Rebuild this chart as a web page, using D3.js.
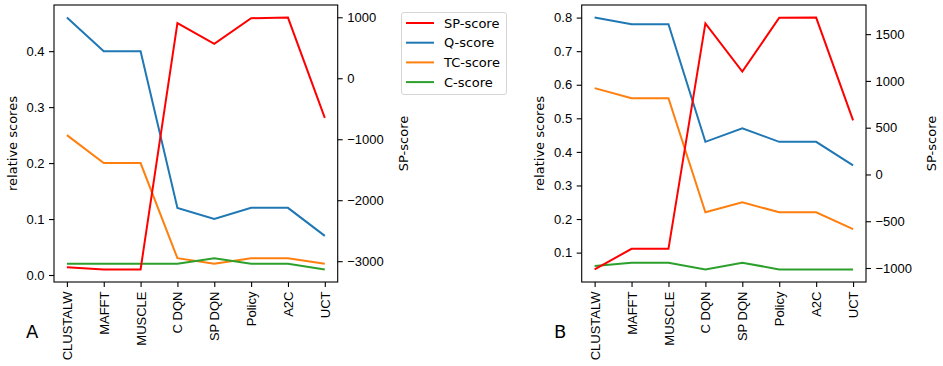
<!DOCTYPE html>
<html>
<head>
<meta charset="utf-8">
<script src="https://cdn.jsdelivr.net/npm/d3@7"></script>
<style>
  body { margin: 0; background: #fff; }
  svg { font-family: "DejaVu Sans", sans-serif; }
  .axis path, .axis line { stroke: #000; stroke-width: 1.1; }
  .axis text { font-size: 13px; fill: #000; }
</style>
</head>
<body>
<div id="app"></div>
<script>
// categories (x ticks)
const methods = ['CLUSTALW', 'MAFFT', 'MUSCLE', 'C DQN', 'SP DQN', 'Policy', 'A2C', 'UCT'];

// panel A
const qA  = [0.46, 0.40, 0.40, 0.12, 0.10, 0.12, 0.12, 0.07];
const tcA = [0.25, 0.20, 0.20, 0.03, 0.02, 0.03, 0.03, 0.02];
const cA  = [0.02, 0.02, 0.02, 0.02, 0.03, 0.02, 0.02, 0.01];
const spA = [-3100, -3135, -3135, 905, 565, 985, 995, -650];
const leftTicksA  = [0.0, 0.1, 0.2, 0.3, 0.4];
const rightTicksA = [-3000, -2000, -1000, 0, 1000];

// panel B
const qB  = [0.80, 0.78, 0.78, 0.43, 0.47, 0.43, 0.43, 0.36];
const tcB = [0.59, 0.56, 0.56, 0.22, 0.25, 0.22, 0.22, 0.17];
const cB  = [0.06, 0.07, 0.07, 0.05, 0.07, 0.05, 0.05, 0.05];
const spB = [-1015, -795, -795, 1615, 1100, 1675, 1677, 578];
const leftTicksB  = [0.1, 0.2, 0.3, 0.4, 0.5, 0.6, 0.7, 0.8];
const rightTicksB = [-1000, -500, 0, 500, 1000, 1500];

const seriesNames = ['SP-score', 'Q-score', 'TC-score', 'C-score'];
const colors = { 'SP-score': '#ff0000', 'Q-score': '#1f77b4', 'TC-score': '#ff7f0e', 'C-score': '#2ca02c' };

const svg = d3.select('#app').append('svg')
  .attr('width', 943)
  .attr('height', 366);

// matplotlib style 5% margins
function padded( arrays ) {
  const all = [].concat( ...arrays );
  const [lo, hi] = d3.extent( all );
  const m = ( hi - lo ) * 0.05;
  return [ lo - m, hi + m ];
}

function drawPanel( p ) {
  const x = d3.scaleLinear().domain( [ -0.35, methods.length - 1 + 0.35 ] ).range( [ p.left, p.right ] );
  const yL = d3.scaleLinear().domain( padded( [ p.q, p.tc, p.c ] ) ).range( [ p.bottom, p.top ] );
  const yR = d3.scaleLinear().domain( padded( [ p.sp ] ) ).range( [ p.bottom, p.top ] );

  const g = svg.append('g');

  // lines on the left axis
  const lineL = d3.line().x( ( d, i ) => x( i ) ).y( d => yL( d ) );
  [ [ p.q, 'Q-score' ], [ p.tc, 'TC-score' ], [ p.c, 'C-score' ] ].forEach( ( [ vals, name ] ) => {
    g.append('path')
      .datum( vals )
      .attr('d', lineL)
      .attr('fill', 'none')
      .attr('stroke', colors[ name ])
      .attr('stroke-width', 2);
  } );

  // SP-score on the twin axis
  const lineR = d3.line().x( ( d, i ) => x( i ) ).y( d => yR( d ) );
  g.append('path')
    .datum( p.sp )
    .attr('d', lineR)
    .attr('fill', 'none')
    .attr('stroke', colors['SP-score'])
    .attr('stroke-width', 2);

  // frame
  g.append('rect')
    .attr('x', p.left).attr('y', p.top)
    .attr('width', p.right - p.left).attr('height', p.bottom - p.top)
    .attr('fill', 'none').attr('stroke', '#000').attr('stroke-width', 1.1);

  // axes
  g.append('g').attr('class', 'axis')
    .attr('transform', `translate(${p.left},0)`)
    .call( d3.axisLeft( yL ).tickValues( p.leftTicks ).tickFormat( d3.format('.1f') ).tickSize( 5 ).tickPadding( 4.5 ).tickSizeOuter( 0 ) )
    .call( a => a.select('.domain').remove() );

  g.append('g').attr('class', 'axis')
    .attr('transform', `translate(${p.right},0)`)
    .call( d3.axisRight( yR ).tickValues( p.rightTicks ).tickFormat( d3.format('d') ).tickSize( 5 ).tickPadding( 4.5 ).tickSizeOuter( 0 ) )
    .call( a => a.select('.domain').remove() );

  const xa = g.append('g').attr('class', 'axis')
    .attr('transform', `translate(0,${p.bottom})`)
    .call( d3.axisBottom( x ).tickValues( d3.range( methods.length ) ).tickFormat( i => methods[ i ] ).tickSize( 5 ).tickSizeOuter( 0 ) );
  xa.select('.domain').remove();
  xa.selectAll('text')
    .attr('transform', 'rotate(-90)')
    .attr('text-anchor', 'end')
    .attr('x', -9.5)
    .attr('y', 0)
    .attr('dy', '0.35em');

  // axis titles
  const midY = ( p.top + p.bottom ) / 2;
  g.append('text')
    .attr('transform', `translate(${p.leftLabelX},${midY}) rotate(-90)`)
    .attr('text-anchor', 'middle').attr('dy', '0.35em')
    .style('font-size', '13px')
    .text('relative scores');
  g.append('text')
    .attr('transform', `translate(${p.rightLabelX},${midY}) rotate(-90)`)
    .attr('text-anchor', 'middle').attr('dy', '0.35em')
    .style('font-size', '13px')
    .text('SP-score');

  // panel letter
  g.append('text')
    .attr('x', p.letterX).attr('y', 338)
    .style('font-size', '18px')
    .text( p.letter );
}

drawPanel( { left: 54, right: 337.7, top: 5, bottom: 282, q: qA, tc: tcA, c: cA, sp: spA,
  leftTicks: leftTicksA, rightTicks: rightTicksA, leftLabelX: 12, rightLabelX: 403.5, letter: 'A', letterX: 26 } );
drawPanel( { left: 581.7, right: 866, top: 5, bottom: 282, q: qB, tc: tcB, c: cB, sp: spB,
  leftTicks: leftTicksB, rightTicks: rightTicksB, leftLabelX: 539, rightLabelX: 931.5, letter: 'B', letterX: 554 } );

// legend
const legend = svg.append('g').attr('transform', 'translate(401.5,12.5)');
legend.append('rect')
  .attr('width', 105).attr('height', 82)
  .attr('rx', 2.5)
  .attr('fill', '#fff').attr('fill-opacity', 0.8)
  .attr('stroke', '#d5d5d5');
seriesNames.forEach( ( name, i ) => {
  const yy = 10.5 + i * 19.7;
  legend.append('line')
    .attr('x1', 4.5).attr('x2', 32.5).attr('y1', yy).attr('y2', yy)
    .attr('stroke', colors[ name ]).attr('stroke-width', 2);
  legend.append('text')
    .attr('x', 42.5).attr('y', yy).attr('dy', '0.35em')
    .style('font-size', '13px')
    .text( name );
} );
</script>
</body>
</html>
